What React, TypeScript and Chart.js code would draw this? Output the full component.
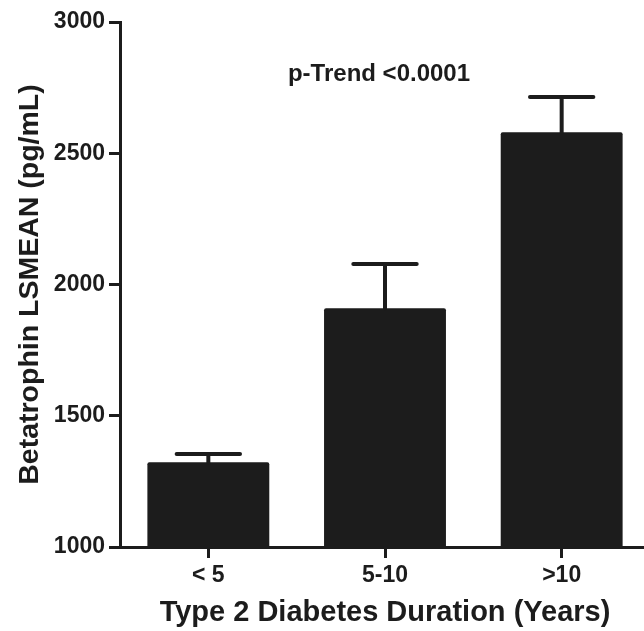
import React, { useEffect, useRef } from "react";
import { Chart, registerables } from "chart.js";

Chart.register(...registerables);

const categories = ["< 5", "5-10", ">10"];
const lsmeans = [1323, 1910, 2580];
const upperErrors = [1354, 2078, 2714];
const yTicks = [1000, 1500, 2000, 2500, 3000];
const trendLabel = "p-Trend <0.0001";
const trendAt = { index: 1, value: 2800 };

const INK = "#1c1c1c";
const FONT = "'Liberation Sans', Arial, sans-serif";

const errorBarPlugin = {
  id: "errorBars",
  afterDatasetsDraw(chart: any) {
    const { ctx, scales } = chart;
    const x = scales.x;
    const y = scales.y;
    const meta = chart.getDatasetMeta(0);
    ctx.save();
    ctx.strokeStyle = INK;
    ctx.lineWidth = 4;
    ctx.lineCap = "round";
    lsmeans.forEach((m, i) => {
      const px = x.getPixelForValue(i);
      const y0 = y.getPixelForValue(m);
      const y1 = y.getPixelForValue(upperErrors[i]);
      const half = meta.data[i].width * 0.26;
      ctx.beginPath();
      ctx.moveTo(px, y0);
      ctx.lineTo(px, y1);
      ctx.stroke();
      ctx.beginPath();
      ctx.moveTo(px - half, y1);
      ctx.lineTo(px + half, y1);
      ctx.stroke();
    });
    ctx.fillStyle = INK;
    ctx.font = `bold 24px ${FONT}`;
    ctx.textAlign = "center";
    ctx.textBaseline = "middle";
    ctx.fillText(
      trendLabel,
      x.getPixelForValue(trendAt.index) - 6,
      y.getPixelForValue(trendAt.value)
    );
    ctx.restore();
  },
};

export default function App() {
  const ref = useRef<HTMLCanvasElement | null>(null);

  useEffect(() => {
    if (!ref.current) return;
    const chart = new Chart(ref.current, {
      type: "bar",
      data: {
        labels: categories,
        datasets: [
          {
            data: lsmeans,
            backgroundColor: INK,
            borderRadius: 2,
            borderSkipped: "bottom",
            barPercentage: 0.69,
            categoryPercentage: 1,
          },
        ],
      },
      options: {
        responsive: false,
        animation: false,
        layout: { padding: { top: 22, left: 0, right: 0, bottom: 0 } },
        plugins: { legend: { display: false }, tooltip: { enabled: false } },
        scales: {
          x: {
            grid: {
              display: true,
              offset: false,
              drawOnChartArea: false,
              drawTicks: true,
              tickLength: 11,
              tickWidth: 3,
              tickColor: INK,
              color: INK,
            },
            border: { display: true, color: INK, width: 3 },
            ticks: {
              color: INK,
              padding: 4,
              font: { family: FONT, size: 23, weight: "bold" },
            },
            title: {
              display: true,
              text: "Type 2 Diabetes Duration (Years)",
              color: INK,
              padding: { top: 0, bottom: 1 },
              font: { family: FONT, size: 29, weight: "bold" },
            },
            afterFit(scale: any) {
              scale.height = 84;
            },
          },
          y: {
            min: yTicks[0],
            max: yTicks[yTicks.length - 1],
            afterBuildTicks(scale: any) {
              scale.ticks = yTicks.map((v) => ({ value: v }));
            },
            grid: {
              display: true,
              drawOnChartArea: false,
              drawTicks: true,
              tickLength: 11,
              tickWidth: 3,
              tickColor: INK,
              color: INK,
            },
            border: { display: true, color: INK, width: 3 },
            ticks: {
              color: INK,
              padding: 4,
              callback: (v: any) => String(v),
              font: { family: FONT, size: 23, weight: "bold" },
            },
            title: {
              display: true,
              text: "Betatrophin LSMEAN (pg/mL)",
              color: INK,
              padding: { top: 13, bottom: 0 },
              font: { family: FONT, size: 28.5, weight: "bold" },
            },
            afterFit(scale: any) {
              scale.width = 120;
            },
          },
        },
      },
      plugins: [errorBarPlugin],
    });
    return () => chart.destroy();
  }, []);

  return (
    <div
      style={{
        position: "absolute",
        left: 0,
        top: 0,
        width: 644,
        height: 631,
        overflow: "hidden",
        background: "#fff",
      }}
    >
      <canvas ref={ref} width={650} height={631} style={{ width: 650, height: 631 }} />
    </div>
  );
}
